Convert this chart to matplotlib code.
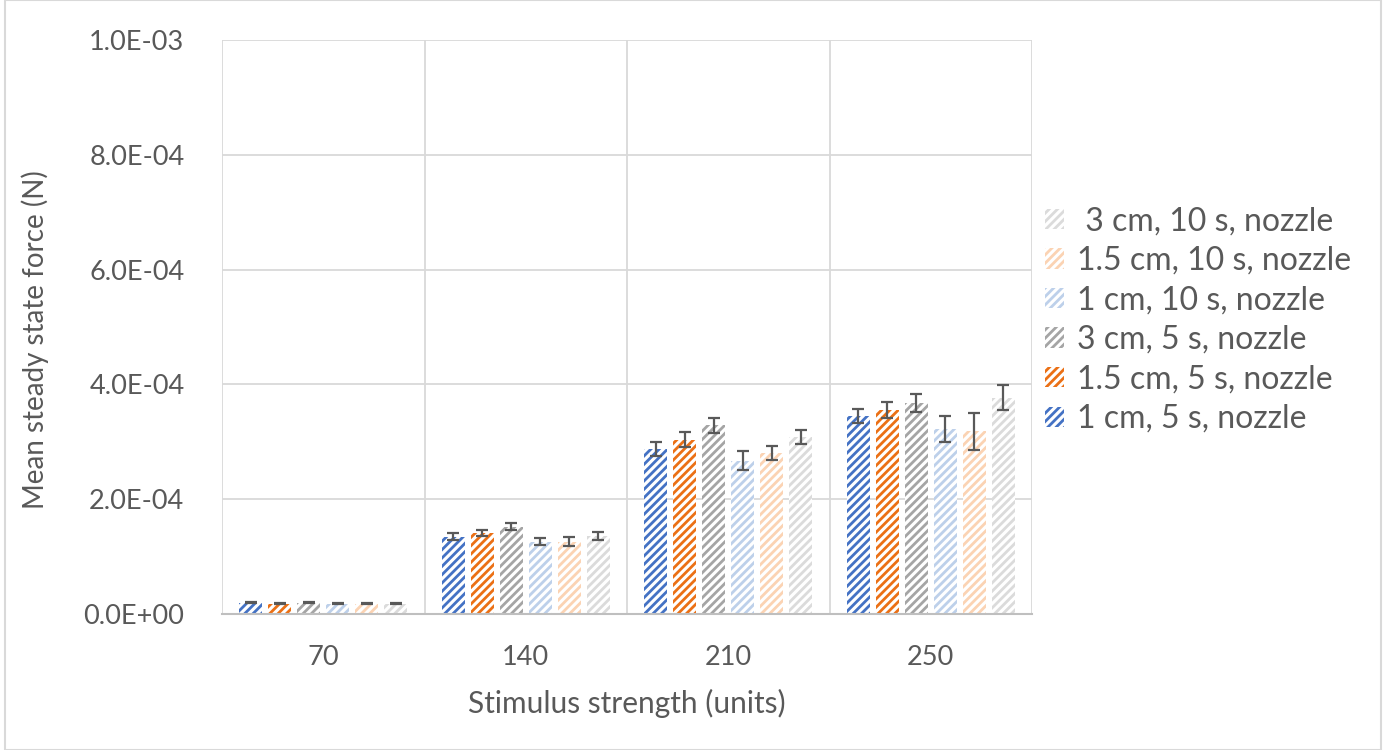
import matplotlib
matplotlib.use("Agg")
import matplotlib.pyplot as plt
import matplotlib.patches as mpatches
import numpy as np

# Stimulus strength categories
categories = ["70", "140", "210", "250"]

# Series labels (distance, duration, delivery)
series_labels = [
    "1 cm, 5 s, nozzle",
    "1.5 cm, 5 s, nozzle",
    "3 cm, 5 s, nozzle",
    "1 cm, 10 s, nozzle",
    "1.5 cm, 10 s, nozzle",
    " 3 cm, 10 s, nozzle",
]

# Mean steady state force (N) per series, one value per stimulus strength
force_1cm_5s = [2.0e-5, 1.35e-4, 2.87e-4, 3.45e-4]
force_15cm_5s = [1.8e-5, 1.41e-4, 3.04e-4, 3.55e-4]
force_3cm_5s = [2.0e-5, 1.52e-4, 3.29e-4, 3.68e-4]
force_1cm_10s = [1.8e-5, 1.26e-4, 2.67e-4, 3.22e-4]
force_15cm_10s = [1.8e-5, 1.26e-4, 2.80e-4, 3.18e-4]
force_3cm_10s = [1.8e-5, 1.36e-4, 3.09e-4, 3.77e-4]

# Error bar half-widths (N)
err_1cm_5s = [1.0e-6, 5.5e-6, 1.2e-5, 1.25e-5]
err_15cm_5s = [1.0e-6, 5.2e-6, 1.28e-5, 1.36e-5]
err_3cm_5s = [1.0e-6, 6.0e-6, 1.28e-5, 1.54e-5]
err_1cm_10s = [1.0e-6, 6.0e-6, 1.66e-5, 2.3e-5]
err_15cm_10s = [1.0e-6, 7.8e-6, 1.2e-5, 3.2e-5]
err_3cm_10s = [1.0e-6, 7.2e-6, 1.2e-5, 2.2e-5]

y_ticks = [0.0, 2.0e-4, 4.0e-4, 6.0e-4, 8.0e-4, 1.0e-3]
y_tick_labels = ["0.0E+00", "2.0E-04", "4.0E-04", "6.0E-04", "8.0E-04", "1.0E-03"]

series_values = [force_1cm_5s, force_15cm_5s, force_3cm_5s,
                 force_1cm_10s, force_15cm_10s, force_3cm_10s]
series_errors = [err_1cm_5s, err_15cm_5s, err_3cm_5s,
                 err_1cm_10s, err_15cm_10s, err_3cm_10s]
colors = ["#4472C4", "#EB7015", "#A5A5A5", "#BDD0EA", "#FBD3B3", "#DBDBDB"]

plt.rcParams["font.family"] = ["Lato", "DejaVu Sans"]
plt.rcParams["hatch.linewidth"] = 2.0
text_color = "#595959"
grid_color = "#D9D9D9"

W, H = 1385, 750
fig = plt.figure(figsize=(W / 100, H / 100), dpi=100)
ax = fig.add_axes([222 / W, 1 - 614 / H, (1032 - 222) / W, (614 - 40) / H])

x = np.arange(len(categories))
pitch = 0.143
width = 0.113
n = len(series_values)

for i, (vals, errs, col, lab) in enumerate(zip(series_values, series_errors, colors, series_labels)):
    pos = x + (i - (n - 1) / 2) * pitch
    ax.bar(pos, vals, width=width, facecolor="white", edgecolor=col,
           linewidth=0, hatch="////", zorder=3)
    ax.errorbar(pos, vals, yerr=errs, fmt="none", ecolor="#595959",
                elinewidth=1.6, capsize=4.5, capthick=1.6, zorder=4)

ax.set_xlim(-0.5, len(categories) - 0.5)
ax.set_ylim(0, 1.0e-3)
ax.set_yticks(y_ticks)
ax.set_yticklabels(y_tick_labels)
ax.set_xticks(x)
ax.set_xticklabels(categories)
ax.tick_params(axis="both", length=0, labelsize=19.5, colors=text_color)
ax.tick_params(axis="y", pad=27)
ax.tick_params(axis="x", pad=22)

# horizontal gridlines and vertical category separators
for yv in y_ticks[1:]:
    ax.axhline(yv, color=grid_color, linewidth=1.3, zorder=1)
for xv in np.arange(-0.5, len(categories), 1.0):
    ax.axvline(xv, color=grid_color, linewidth=1.3, zorder=1)

for s in ["top", "right", "left"]:
    ax.spines[s].set_visible(False)
ax.spines["bottom"].set_color("#BFBFBF")
ax.spines["bottom"].set_linewidth(1.5)
ax.spines["bottom"].set_zorder(5)

fig.text(627 / W, 1 - 703 / H, "Stimulus strength (units)", ha="center", va="center",
         fontsize=21.5, color=text_color)
fig.text(35 / W, 1 - 340 / H, "Mean steady state force (N)", ha="center", va="center",
         rotation=90, fontsize=20, color=text_color)

handles = [mpatches.Patch(facecolor="white", edgecolor=c, linewidth=0, hatch="////")
           for c in colors]
leg = fig.legend(handles[::-1], series_labels[::-1], loc="center left",
                 bbox_to_anchor=(1016 / W, 1 - 320 / H), frameon=False,
                 fontsize=23, labelcolor=text_color, handlelength=0.6,
                 handleheight=0.6, handletextpad=0.4, labelspacing=0.3)

# outer chart frame
fig.add_artist(mpatches.Rectangle((5 / W, 0), (1381 - 5) / W, 1.0,
                                  transform=fig.transFigure, fill=False,
                                  edgecolor="#D9D9D9", linewidth=1.5))

fig.savefig("out.png", dpi=100)
